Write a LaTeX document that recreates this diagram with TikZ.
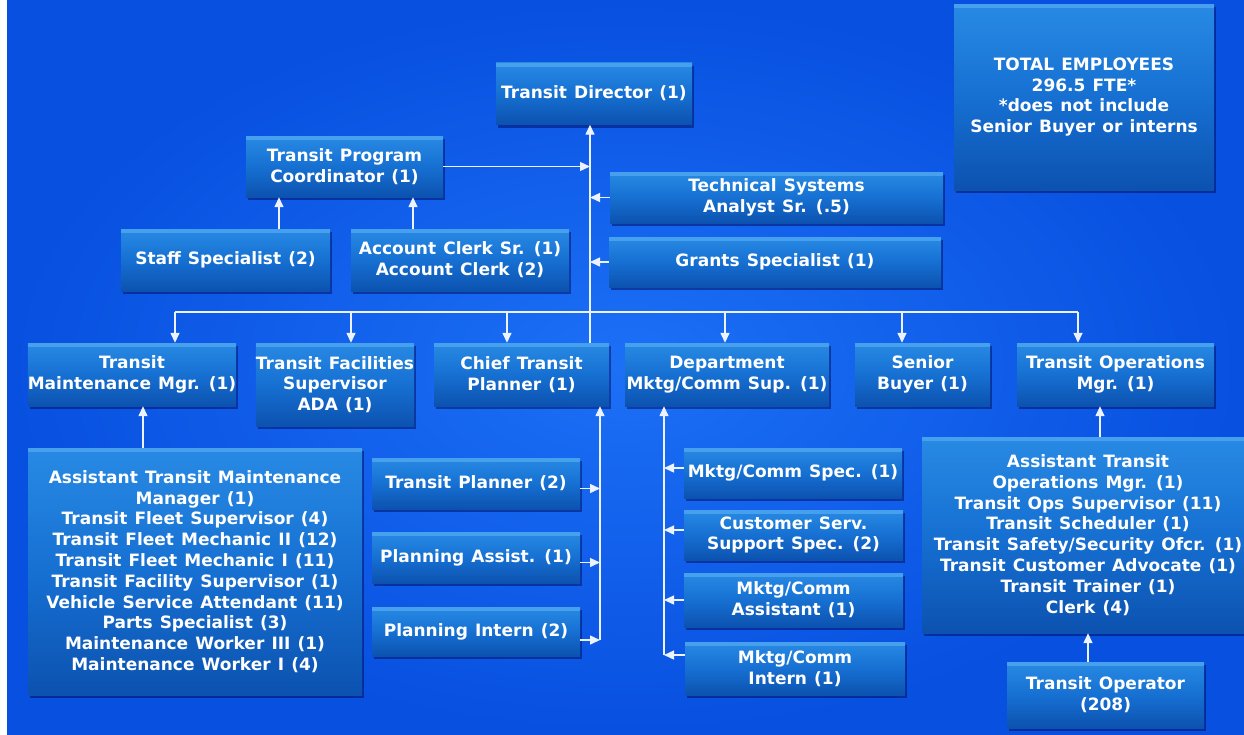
\documentclass[tikz,border=0pt]{standalone}
\usepackage{fontspec}
\setmainfont{DejaVu Sans}
\usetikzlibrary{arrows.meta,shadows,calc}
\definecolor{bgin}{RGB}{28,112,246}
\definecolor{bgout}{RGB}{8,80,224}
\definecolor{boxtop}{RGB}{40,138,228}
\definecolor{boxmid}{RGB}{22,112,210}
\definecolor{boxbot}{RGB}{12,82,176}
\definecolor{boxhl}{RGB}{70,160,238}
\definecolor{wirec}{RGB}{236,243,255}
\newcommand{\boxfont}{\fontsize{17}{20.8}\selectfont\bfseries\spaceskip=0.42em plus 0.1em\relax}
\begin{document}
\begin{tikzpicture}[x=1pt,y=-1pt,
  box/.style={rectangle, inner sep=0pt, align=center, text=white,
    font=\boxfont,
    top color=boxtop, bottom color=boxbot, middle color=boxmid,
    drop shadow={shadow xshift=2pt, shadow yshift=-3pt, opacity=0.45, fill=black!70!blue},
    path picture={\fill[boxhl] (path picture bounding box.north west) rectangle ([yshift=-4pt]path picture bounding box.north east);}},
  sz/.style 2 args={minimum width=#1pt, minimum height=#2pt},
  wire/.style={draw=wirec, line width=1.4pt},
  arr/.style={wire, -{Triangle[length=10pt,width=9pt]}}
]
\useasboundingbox (0,0) rectangle (1244,734);
\clip (0,0) rectangle (1244,734);
\fill[white] (0,0) rectangle (7,734);
\shade[inner color=bgin, outer color=bgout] (7,0) rectangle (1244,734);

% top
\node[box, sz={196}{62}] (dir) at (594,93.5) {Transit Director (1)};
\node[box, sz={260}{186}] (total) at (1084,97) {TOTAL EMPLOYEES\\296.5 FTE*\\*does not include\\Senior Buyer or interns};
\node[box, sz={197}{61}] (tpc) at (344.5,166.5) {Transit Program\\Coordinator (1)};
\node[box, sz={333}{51}] (tsa) at (776.5,197.5) {Technical Systems\\Analyst Sr. (.5)};
\node[box, sz={332}{50}] (grants) at (775,262) {Grants Specialist (1)};
\node[box, sz={209}{62}] (staff) at (225.5,260) {Staff Specialist (2)};
\node[box, sz={218}{62}] (acct) at (460,260) {Account Clerk Sr. (1)\\Account Clerk (2)};

% second row
\node[box, sz={208}{63}] (tmm) at (132,374.5) {Transit\\Maintenance Mgr. (1)};
\node[box, sz={156}{83}] (tfs) at (335,384.5) {Transit Facilities\\Supervisor\\ADA (1)};
\node[box, sz={175}{63}] (ctp) at (521.5,374.5) {Chief Transit\\Planner (1)};
\node[box, sz={204}{63}] (dept) at (727,374.5) {Department\\Mktg/Comm Sup. (1)};
\node[box, sz={135}{63}] (sb) at (922.5,374.5) {Senior\\Buyer (1)};
\node[box, sz={197}{63}] (tom) at (1115.5,374.5) {Transit Operations\\Mgr. (1)};

% lower
\node[box, sz={334}{247}] (maint) at (195,571.5) {Assistant Transit Maintenance\\Manager (1)\\Transit Fleet Supervisor (4)\\Transit Fleet Mechanic II (12)\\Transit Fleet Mechanic I (11)\\Transit Facility Supervisor (1)\\Vehicle Service Attendant (11)\\Parts Specialist (3)\\Maintenance Worker III (1)\\Maintenance Worker I (4)};
\node[box, sz={208}{51}] (tp) at (476,483.5) {Transit Planner (2)};
\node[box, sz={208}{51}] (pa) at (476,557.5) {Planning Assist. (1)};
\node[box, sz={208}{49}] (pi) at (476,631.5) {Planning Intern (2)};
\node[box, sz={218}{50}] (mcs) at (793,473) {Mktg/Comm Spec. (1)};
\node[box, sz={219}{50}] (css) at (793.5,535) {Customer Serv.\\Support Spec. (2)};
\node[box, sz={219}{54}] (mca) at (793.5,600) {Mktg/Comm\\Assistant (1)};
\node[box, sz={220}{53}] (mci) at (795,668.5) {Mktg/Comm\\Intern (1)};
\node[box, sz={332}{196}] (ops) at (1088,535) {Assistant Transit\\Operations Mgr. (1)\\Transit Ops Supervisor (11)\\Transit Scheduler (1)\\Transit Safety/Security Ofcr. (1)\\Transit Customer Advocate (1)\\Transit Trainer (1)\\Clerk (4)};
\node[box, sz={197}{66}] (oper) at (1105.5,695) {Transit Operator\\(208)};

% connectors
\coordinate (tx) at (590,0);
\draw[arr] (ctp.north -| tx) -- (dir.south -| tx);
\draw[arr] (tpc.east) -- (tpc.east -| tx);
\draw[arr] (tsa.west) -- (tsa.west -| tx);
\draw[arr] (grants.west) -- (grants.west -| tx);
\coordinate (sx) at (279,0);
\coordinate (ax) at (413,0);
\draw[arr] (staff.north -| sx) -- (tpc.south -| sx);
\draw[arr] (acct.north -| ax) -- (tpc.south -| ax);

\coordinate (b1) at (175,312);
\coordinate (b2) at (351,312);
\coordinate (b3) at (507,312);
\coordinate (b4) at (725,312);
\coordinate (b5) at (902,312);
\coordinate (b6) at (1078,312);
\draw[wire] (b1) -- (b6);
\draw[arr] (b1) -- (b1 |- tmm.north);
\draw[arr] (b2) -- (b2 |- tfs.north);
\draw[arr] (b3) -- (b3 |- ctp.north);
\draw[arr] (b4) -- (b4 |- dept.north);
\draw[arr] (b5) -- (b5 |- sb.north);
\draw[arr] (b6) -- (b6 |- tom.north);

\coordinate (mx) at (143,0);
\draw[arr] (maint.north -| mx) -- (tmm.south -| mx);

\coordinate (pbot) at (600,640);
\draw[arr] (pbot) -- (ctp.south -| pbot);
\draw[arr] ([yshift=-5pt]tp.east) -- ([yshift=-5pt]tp.east -| pbot);
\draw[arr] ([yshift=-5pt]pa.east) -- ([yshift=-5pt]pa.east -| pbot);
\draw[arr] ([yshift=-8.5pt]pi.east) -- ([yshift=-8.5pt]pi.east -| pbot);

\coordinate (dbot) at (664,655);
\draw[arr] (dbot) -- (dept.south -| dbot);
\draw[arr] ([yshift=5pt]mcs.west) -- ([yshift=5pt]mcs.west -| dbot);
\draw[arr] ([yshift=5pt]css.west) -- ([yshift=5pt]css.west -| dbot);
\draw[arr] (mca.west) -- (mca.west -| dbot);
\draw[arr] ([yshift=13.5pt]mci.west) -- ([yshift=13.5pt]mci.west -| dbot);

\coordinate (ox) at (1100,0);
\draw[arr] (ops.north -| ox) -- (tom.south -| ox);
\coordinate (opx) at (1088,0);
\draw[arr] (oper.north -| opx) -- (ops.south -| opx);
\end{tikzpicture}
\end{document}
